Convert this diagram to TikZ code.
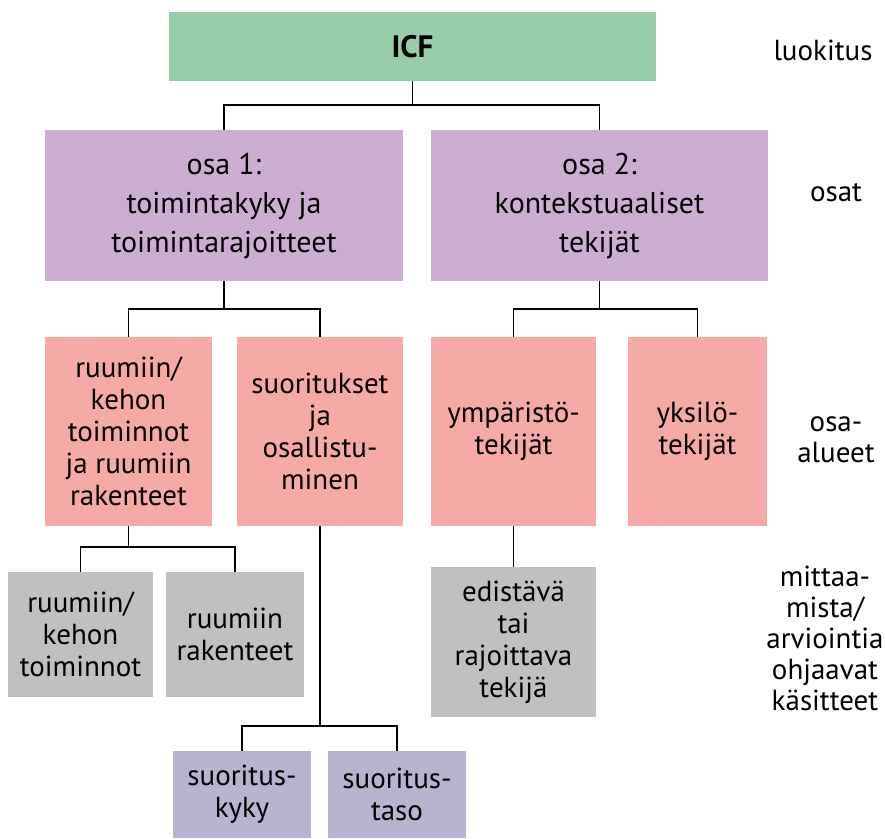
\documentclass[tikz,border=0pt]{standalone}
\usepackage{fontspec}
\setmainfont{PT Sans}
\usepackage{tikz}
\usetikzlibrary{positioning}

\definecolor{icfgreen}{HTML}{97CDA9}
\definecolor{osapurple}{HTML}{CDAED3}
\definecolor{alasalmon}{HTML}{F5AAA5}
\definecolor{kasgray}{HTML}{C0C0C0}
\definecolor{suolav}{HTML}{B9B3D0}

\tikzset{
  box/.style={rectangle,inner sep=0pt,align=center,font=\fontsize{29}{32}\selectfont},
  osabox/.style={box,fill=osapurple,minimum height=151pt,font=\fontsize{30}{39}\selectfont},
  alabox/.style={box,fill=alasalmon,minimum height=189pt},
  kasbox/.style={box,fill=kasgray},
  suobox/.style={box,fill=suolav,minimum width=138pt,minimum height=87pt},
  level/.style={align=center,font=\fontsize{29}{31}\selectfont},
  link/.style={draw=black,line width=1.6pt}
}

\begin{document}
\begin{tikzpicture}[x=1pt,y=-1pt]
\useasboundingbox (0,0) rectangle (885,838);
% luokitus
\node[box,fill=icfgreen,minimum width=487pt,minimum height=69pt,font=\fontsize{31}{36}\selectfont\bfseries] (icf) at (412.5,46.5) {ICF};
% osat
\node[osabox,minimum width=358pt] (osa1) at (224,205.5) {osa 1:\\toimintakyky ja\\toimintarajoitteet};
\node[osabox,minimum width=337pt] (osa2) at (599.5,205.5) {osa 2:\\kontekstuaaliset\\tekijät};
% osa-alueet
\node[alabox,minimum width=167pt] (ruumis) at (128.5,431.5) {ruumiin/\\kehon\\toiminnot\\ja ruumiin\\rakenteet};
\node[alabox,minimum width=166pt] (suor) at (320,431.5) {suoritukset\\ja\\osallistu-\\minen};
\node[alabox,minimum width=165pt] (ymp) at (513.5,431.5) {ympäristö-\\tekijät};
\node[alabox,minimum width=139pt] (yks) at (697.5,431.5) {yksilö-\\tekijät};
% kasitteet
\node[kasbox,minimum width=145pt,minimum height=125pt] (toim) at (80.5,634.5) {ruumiin/\\kehon\\toiminnot};
\node[kasbox,minimum width=138pt,minimum height=125pt] (rak) at (235,634.5) {ruumiin\\rakenteet};
\node[kasbox,minimum width=165pt,minimum height=150pt] (edis) at (513.5,642) {edistävä\\tai\\rajoittava\\tekijä};
\node[suobox] (kyky) at (242,794.5) {suoritus-\\kyky};
\node[suobox] (taso) at (397,794.5) {suoritus-\\taso};
% tasot oikealla
\node[level] (luok) at (823,50) {luokitus};
\node[level] (osat) at (836,193) {osat};
\node[level] (alueet) at (836,440) {osa-\\alueet};
\node[level] (ohj) at (825,638) {mittaa-\\mista/\\arviointia\\ohjaavat\\käsitteet};

% yhteydet
\coordinate (j0) at (412.5,105);
\coordinate (j1) at (224,309);
\coordinate (j2) at (599.5,309);
\coordinate (j3) at (128.5,547);
\coordinate (j4) at (320,726);
\draw[link] (icf.south) -- (j0);
\draw[link] (osa1.north) |- (j0) -| (osa2.north);
\draw[link] (osa1.south) -- (j1);
\draw[link] (ruumis.north) |- (j1) -| (suor.north);
\draw[link] (osa2.south) -- (j2);
\draw[link] (ymp.north) |- (j2) -| (yks.north);
\draw[link] (ruumis.south) -- (j3);
\draw[link] (toim.north) |- (j3) -| (rak.north);
\draw[link] (suor.south) -- (j4);
\draw[link] (kyky.north) |- (j4) -| (taso.north);
\draw[link] (ymp.south) -- (edis.north);
\end{tikzpicture}
\end{document}
